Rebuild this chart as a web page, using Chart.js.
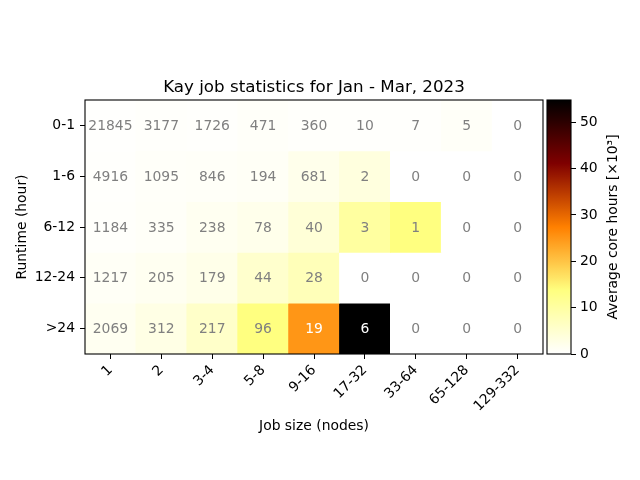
<!DOCTYPE html>
<html><head><meta charset="utf-8">
<script src="https://cdn.jsdelivr.net/npm/chart.js@4.4.0/dist/chart.umd.min.js"></script>
<style>
html,body{margin:0;padding:0;background:#fff;}
#wrap{position:relative;width:640px;height:480px;overflow:hidden;}
#main{position:absolute;left:0;top:0;}
#cbar{position:absolute;left:540px;top:0;}
</style></head><body>
<div id="wrap"><canvas id="main" width="640" height="480"></canvas><canvas id="cbar" width="100" height="480"></canvas></div>
<script>
const jobSizes = ['1','2','3-4','5-8','9-16','17-32','33-64','65-128','129-332'];
const runtimes = ['0-1','1-6','6-12','12-24','>24'];
const jobCounts = [
  [21845, 3177, 1726, 471, 360, 10, 7, 5, 0],
  [4916, 1095, 846, 194, 681, 2, 0, 0, 0],
  [1184, 335, 238, 78, 40, 3, 1, 0, 0],
  [1217, 205, 179, 44, 28, 0, 0, 0, 0],
  [2069, 312, 217, 96, 19, 6, 0, 0, 0]
];
const avgCoreHours = [
  [0.2, 0.4, 0.3, 0.6, 0.4, 0.3, 0.3, 0.7, 0],
  [0.3, 0.6, 0.7, 1.0, 2.1, 3.5, 0, 0, 0],
  [0.4, 0.8, 1.5, 2.1, 4.3, 10.2, 13.6, 0, 0],
  [1.0, 1.5, 2.4, 5.4, 7.5, 0, 0, 0, 0],
  [1.5, 2.8, 5.8, 13.6, 25.0, 54.8, 0, 0, 0]
];
const colorbarTicks = [0, 10, 20, 30, 40, 50];
const vmax = 54.8;

const FONT = '"DejaVu Sans", sans-serif';
function clip(v){ return Math.max(0, Math.min(1, v)); }
function cmap(v){ // afmhot_r
  const x = 1 - v / vmax;
  const r = clip(2*x), g = clip(2*x - 0.5), b = clip(2*x - 1);
  return `rgb(${Math.round(r*255)},${Math.round(g*255)},${Math.round(b*255)})`;
}

const mainPlugin = {
  id: 'mainPlugin',
  afterDatasetsDraw(chart){
    const {ctx, scales:{x, y}, chartArea:a} = chart;
    ctx.save();
    ctx.font = '13.9px ' + FONT;
    ctx.textAlign = 'center'; ctx.textBaseline = 'middle';
    jobCounts.forEach((row, r) => row.forEach((n, c) => {
      ctx.fillStyle = avgCoreHours[r][c] > 20 ? '#ffffff' : '#808080';
      ctx.fillText(String(n), x.getPixelForValue(c), y.getPixelForValue(r + 0.5) + 1);
    }));
    ctx.strokeStyle = '#000'; ctx.lineWidth = 1.1;
    ctx.strokeRect(a.left, a.top, a.right - a.left, a.bottom - a.top);
    ctx.fillStyle = '#000';
    ctx.font = '16.7px ' + FONT;
    ctx.textBaseline = 'alphabetic';
    ctx.fillText('Kay job statistics for Jan - Mar, 2023', (a.left + a.right)/2, 92);
    ctx.restore();
  }
};

const tickFont = {family: FONT, size: 13.9};

new Chart(document.getElementById('main'), {
  type: 'bar',
  data: {
    labels: jobSizes,
    datasets: runtimes.map((rt, r) => ({
      label: rt,
      data: jobSizes.map(() => [r, r + 1]),
      backgroundColor: avgCoreHours[r].map(v => cmap(v)),
      borderWidth: 0, grouped: false, barPercentage: 1, categoryPercentage: 1
    }))
  },
  options: {
    responsive: false, animation: false,
    layout: {padding: {top: 100, right: 97, left: 0, bottom: 0}},
    plugins: {legend: {display: false}, tooltip: {enabled: false}, title: {display: false}},
    scales: {
      x: {
        type: 'category', offset: true,
        grid: {display: true, drawOnChartArea: false, offset: false, tickLength: 5, color: '#000'},
        border: {display: false},
        ticks: {color: '#000', font: tickFont, minRotation: 45, maxRotation: 45, autoSkip: false, padding: 3},
        title: {display: true, text: 'Job size (nodes)', color: '#000', font: tickFont, padding: {top: 0, bottom: 45}},
        afterFit(s){ s.height = 126; }
      },
      y: {
        type: 'linear', min: 0, max: 5, reverse: true,
        afterBuildTicks(s){ s.ticks = runtimes.map((_, i) => ({value: i + 0.5})); },
        grid: {display: true, drawOnChartArea: false, tickLength: 5, color: '#000'},
        border: {display: false},
        ticks: {color: '#000', font: tickFont, padding: 5, callback: v => runtimes[Math.round(v - 0.5)]},
        title: {display: true, text: 'Runtime (hour)', color: '#000', font: tickFont, padding: {top: 14, bottom: 0}},
        afterFit(s){ s.width = 85; }
      }
    }
  },
  plugins: [mainPlugin]
});

const cbarPlugin = {
  id: 'cbarPlugin',
  afterDatasetsDraw(chart){
    const {ctx, chartArea:a} = chart;
    ctx.save();
    ctx.strokeStyle = '#000'; ctx.lineWidth = 1.1;
    ctx.strokeRect(a.left, a.top, a.right - a.left, a.bottom - a.top);
    ctx.fillStyle = '#000';
    ctx.font = '13.9px ' + FONT;
    ctx.textAlign = 'center'; ctx.textBaseline = 'middle';
    ctx.translate(73, (a.top + a.bottom)/2);
    ctx.rotate(-Math.PI/2);
    ctx.fillText('Average core hours [×10³]', 0, 0);
    ctx.restore();
  }
};

new Chart(document.getElementById('cbar'), {
  type: 'bar',
  data: {
    labels: [''],
    datasets: [{
      data: [[0, vmax]],
      backgroundColor: (c) => {
        const ch = c.chart, a = ch.chartArea;
        if (!a) return '#fff';
        const g = ch.ctx.createLinearGradient(0, a.bottom, 0, a.top);
        for (let i = 0; i <= 60; i++) g.addColorStop(i/60, cmap(vmax*i/60));
        return g;
      },
      borderWidth: 0, barPercentage: 1, categoryPercentage: 1
    }]
  },
  options: {
    responsive: false, animation: false,
    layout: {padding: {top: 100, bottom: 126, left: 7, right: 0}},
    plugins: {legend: {display: false}, tooltip: {enabled: false}},
    scales: {
      x: {display: false, offset: true},
      y: {
        position: 'right', min: 0, max: vmax,
        afterBuildTicks(s){ s.ticks = colorbarTicks.map(v => ({value: v})); },
        grid: {display: true, drawOnChartArea: false, tickLength: 5, color: '#000'},
        border: {display: false},
        ticks: {color: '#000', font: tickFont, padding: 4},
        afterFit(s){ s.width = 69; }
      }
    }
  },
  plugins: [cbarPlugin]
});
</script>
</body></html>
